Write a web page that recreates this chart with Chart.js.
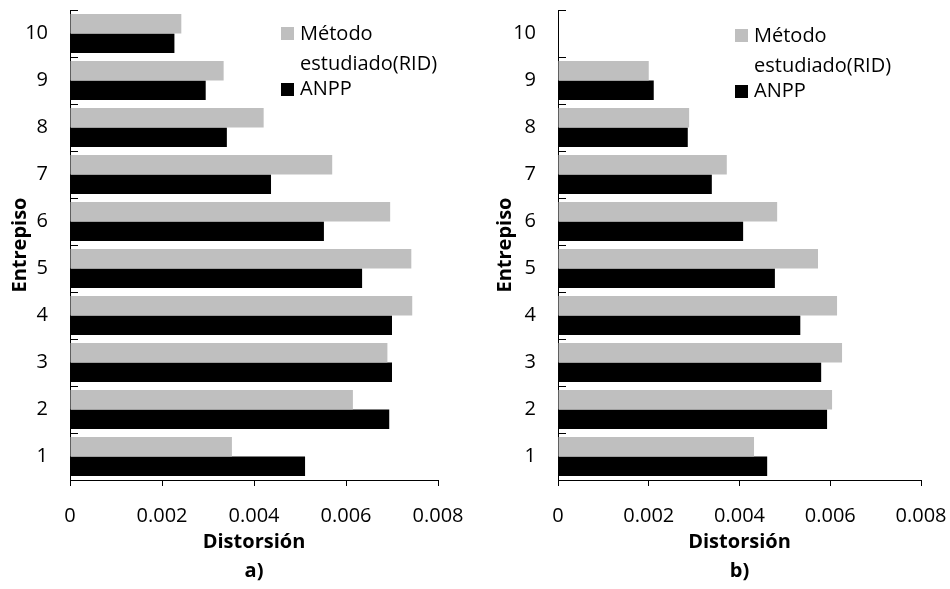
<!DOCTYPE html>
<html>
<head>
<meta charset="utf-8">
<script src="https://cdn.jsdelivr.net/npm/chart.js@4.4.1/dist/chart.umd.min.js"></script>
<style>
    body { margin: 0; background: #fff; }
    .panel { position: absolute; top: 0; width: 475px; height: 589px; }
    .panel canvas { display: block; }
    .legend { position: absolute; font-family: 'Open Sans', sans-serif; font-size: 20px; color: #000; }
</style>
</head>
<body>
<div class="panel" style="left:0">
    <canvas id="chart_a" width="475" height="589"></canvas>
    <div class="legend" id="legend_a" style="left:281px; top:18px"></div>
</div>
<div class="panel" style="left:475px">
    <canvas id="chart_b" width="475" height="589"></canvas>
    <div class="legend" id="legend_b" style="left:260px; top:20px"></div>
</div>
<script>
// Entrepiso 1..10 (drawn bottom to top)
const floors = ['1', '2', '3', '4', '5', '6', '7', '8', '9', '10'];

// a) distorsión de entrepiso
const ridA  = [0.00352, 0.00615, 0.00690, 0.00744, 0.00742, 0.00696, 0.00570, 0.00421, 0.00334, 0.00242];
const anppA = [0.00511, 0.00694, 0.00700, 0.00700, 0.00635, 0.00552, 0.00437, 0.00341, 0.00295, 0.00227];

// b) distorsión de entrepiso (sin valor en el piso 10)
const ridB  = [0.00432, 0.00604, 0.00626, 0.00615, 0.00573, 0.00483, 0.00372, 0.00289, 0.00200, null];
const anppB = [0.00461, 0.00593, 0.00580, 0.00534, 0.00478, 0.00408, 0.00339, 0.00286, 0.00211, null];

const distTicks = [0, 0.002, 0.004, 0.006, 0.008];

const seriesNames = ['Método estudiado(RID)', 'ANPP'];
const seriesColors = ['#bfbfbf', '#000000'];

Chart.defaults.font.family = "'Open Sans', sans-serif";
Chart.defaults.font.size = 20;
Chart.defaults.color = '#000';

const htmlLegendPlugin = {
    id: 'htmlLegend',
    afterUpdate(chart, args, options) {
        const container = document.getElementById(options.containerID);
        while (container.firstChild) {
            container.firstChild.remove();
        }
        const ul = document.createElement('ul');
        ul.style.listStyle = 'none';
        ul.style.margin = 0;
        ul.style.padding = 0;

        const lineHeights = [30, 20];
        const boxOffsets = [9, 5];

        chart.data.datasets.forEach((ds, i) => {
            const li = document.createElement('li');
            li.style.display = 'flex';
            li.style.alignItems = 'flex-start';

            // Color box
            const boxSpan = document.createElement('span');
            boxSpan.style.display = 'inline-block';
            boxSpan.style.flexShrink = 0;
            boxSpan.style.width = '13px';
            boxSpan.style.height = '13px';
            boxSpan.style.background = ds.backgroundColor;
            boxSpan.style.marginTop = boxOffsets[i] + 'px';
            boxSpan.style.marginRight = '6px';

            // Text
            const p = document.createElement('p');
            p.style.margin = 0;
            p.style.width = '150px';
            p.style.lineHeight = lineHeights[i] + 'px';
            p.appendChild(document.createTextNode(ds.label));

            li.appendChild(boxSpan);
            li.appendChild(p);
            ul.appendChild(li);
        });
        container.appendChild(ul);
    }
};

// short tick marks pointing into the plot at each floor boundary
const innerTicksPlugin = {
    id: 'innerTicks',
    afterDraw(chart) {
        const y = chart.scales.y;
        const ctx = chart.ctx;
        const band = (y.bottom - y.top) / y.ticks.length;
        ctx.save();
        ctx.strokeStyle = '#000';
        ctx.lineWidth = 1;
        ctx.beginPath();
        for (let i = 0; i < y.ticks.length; i++) {
            const py = Math.round(y.top + i * band) + 0.5;
            ctx.moveTo(chart.chartArea.left, py);
            ctx.lineTo(chart.chartArea.left + 8, py);
        }
        ctx.stroke();
        ctx.restore();
    }
};

function makeChart(canvasId, legendId, rid, anpp, caption, yWidth, rightPad, titlePad) {
    const ctx = document.getElementById(canvasId).getContext('2d');
    return new Chart(ctx, {
        type: 'bar',
        data: {
            labels: floors,
            datasets: [
                { label: seriesNames[0], data: rid, backgroundColor: seriesColors[0] },
                { label: seriesNames[1], data: anpp, backgroundColor: seriesColors[1] }
            ]
        },
        plugins: [htmlLegendPlugin, innerTicksPlugin],
        options: {
            indexAxis: 'y',
            responsive: false,
            animation: false,
            categoryPercentage: 0.833,
            barPercentage: 1,
            layout: { padding: { top: 10, right: rightPad, bottom: 0, left: 0 } },
            plugins: {
                legend: { display: false },
                tooltip: { enabled: false },
                htmlLegend: { containerID: legendId }
            },
            scales: {
                x: {
                    min: 0,
                    max: 0.008,
                    afterBuildTicks: scale => {
                        scale.ticks = distTicks.map(v => ({ value: v }));
                    },
                    afterFit: scale => {
                        scale.height = 109;
                        scale.paddingLeft = 0;
                        scale.paddingRight = 0;
                    },
                    border: { color: '#000', width: 1 },
                    grid: { drawOnChartArea: false, drawTicks: true, tickLength: 6, color: '#000' },
                    ticks: {
                        padding: 18,
                        maxRotation: 0,
                        callback: value => value === 0 ? '0' : value.toFixed(3)
                    },
                    title: {
                        display: true,
                        text: ['Distorsión', caption],
                        font: { weight: 'bold', size: 20, lineHeight: 1.45 },
                        padding: { top: 0, bottom: 3 }
                    }
                },
                y: {
                    reverse: true,
                    afterFit: scale => {
                        scale.width = yWidth;
                        scale.paddingTop = 0;
                        scale.paddingBottom = 0;
                    },
                    border: { color: '#000', width: 1 },
                    grid: { drawOnChartArea: false, drawTicks: false },
                    ticks: { padding: 22 },
                    title: {
                        display: true,
                        text: 'Entrepiso',
                        font: { weight: 'bold', size: 20 },
                        padding: { top: titlePad, bottom: 0 }
                    }
                }
            }
        }
    });
}

makeChart('chart_a', 'legend_a', ridA, anppA, 'a)', 70, 37, 8);
makeChart('chart_b', 'legend_b', ridB, anppB, 'b)', 83, 29, 18);
</script>
</body>
</html>
